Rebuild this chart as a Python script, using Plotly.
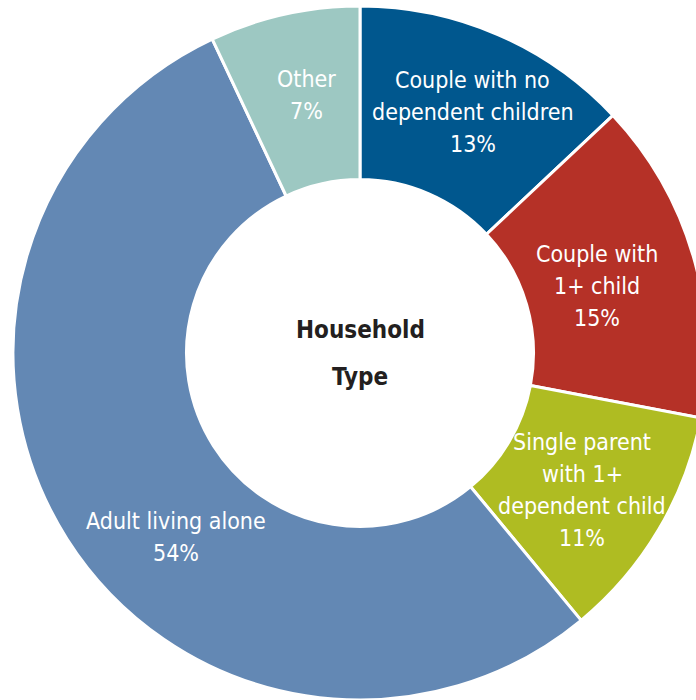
import math
import plotly.graph_objects as go

# Household type shares (%), clockwise from 12 o'clock
categories = [
    "Couple with no<br>dependent children",
    "Couple with<br>1+ child",
    "Single parent<br>with 1+<br>dependent child",
    "Adult living alone",
    "Other",
]
shares = [13, 15, 11, 54, 7]
colors = ["#00578E", "#B53127", "#AFBC22", "#6388B4", "#9DC8C2"]

FONT = "Liberation Sans Narrow, DejaVu Sans Condensed, Arial Narrow, sans-serif"

W, H = 710, 700
M = dict(l=13, r=3, t=6, b=0)
PW, PH = W - M["l"] - M["r"], H - M["t"] - M["b"]
HOLE = 0.5

# label placement: radial position in the ring and small angular nudges (deg)
label_radius = [266, 246, 261, 260, 264]
angle_nudge = [1.7, 0.4, 1.1, -12.6, 0.8]
LINE_GAP = 32

fig = go.Figure(
    go.Pie(
        labels=categories,
        values=shares,
        sort=False,
        direction="clockwise",
        rotation=0,
        hole=HOLE,
        marker=dict(colors=colors, line=dict(color="white", width=3)),
        textinfo="none",
        showlegend=False,
        hoverinfo="label+percent",
    )
)

# slice labels, centred on each slice's mid-angle
total = sum(shares)
cum = 0
for i, (lab, v) in enumerate(zip(categories, shares)):
    mid = (cum + v / 2) / total * 360 + angle_nudge[i]
    cum += v
    a = math.radians(mid)
    dx = label_radius[i] * math.sin(a)
    dy = -label_radius[i] * math.cos(a)
    lines = lab.split("<br>") + [f"{v}%"]
    n = len(lines)
    for k, line in enumerate(lines):
        off = (k - (n - 1) / 2) * LINE_GAP
        fig.add_annotation(
            text=line,
            x=0.5 + dx / PW,
            y=0.5 - (dy + off) / PH,
            xref="paper", yref="paper",
            xanchor="center", yanchor="middle",
            showarrow=False,
            font=dict(family=FONT, size=23, color="white"),
        )

for txt, shift in (("Household", 23), ("Type", -24)):
    fig.add_annotation(
        text=f"<b>{txt}</b>", x=0.5, y=0.5, xref="paper", yref="paper",
        yshift=shift, showarrow=False,
        font=dict(family=FONT, size=24, color="#231F20"),
    )

fig.update_layout(
    width=W,
    height=H,
    margin=M,
    paper_bgcolor="white",
    plot_bgcolor="white",
)

fig.write_html(
    "out.html",
    post_script="document.documentElement.style.overflow='hidden';document.body.style.overflow='hidden';",
)
